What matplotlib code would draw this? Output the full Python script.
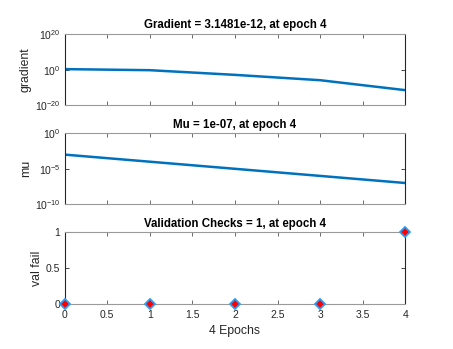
import matplotlib
matplotlib.use("Agg")
import matplotlib.pyplot as plt
import numpy as np

plt.rcParams['font.family'] = ['Liberation Sans', 'DejaVu Sans']
plt.rcParams['mathtext.fontset'] = 'custom'
plt.rcParams['mathtext.rm'] = 'Liberation Sans'
plt.rcParams['mathtext.it'] = 'Liberation Sans'

epochs = [0, 1, 2, 3, 4]
gradient = [2.0, 0.5, 1.2e-3, 1.2e-6, 3.1481e-12]
mu = [1e-3, 1e-4, 1e-5, 1e-6, 1e-7]
val_fail = [0, 0, 0, 0, 1]

titles = ["Gradient = 3.1481e-12, at epoch 4",
          "Mu = 1e-07, at epoch 4",
          "Validation Checks = 1, at epoch 4"]
ylabels = ["gradient", "mu", "val fail"]
xlabel = "4 Epochs"
xticks = [0, 0.5, 1, 1.5, 2, 2.5, 3, 3.5, 4]
xticklabels = ["0", "0.5", "1", "1.5", "2", "2.5", "3", "3.5", "4"]

W, H = 453, 349
fig = plt.figure(figsize=(W/100, H/100), dpi=100)
fig.patch.set_facecolor('white')

def rect(l, t, r, b):
    return [l/W, 1-b/H, (r-l)/W, (b-t)/H]

axes = [fig.add_axes(rect(64.5, 34, 405.3, 105.3)),
        fig.add_axes(rect(64.5, 133.3, 405.3, 204.3)),
        fig.add_axes(rect(64.5, 232.3, 405.3, 304))]

dark = '#262626'
blue = '#0072BD'

for ax in axes:
    ax.set_xlim(0, 4)
    ax.set_xticks(xticks)
    ax.tick_params(direction='in', top=True, right=True, length=3, width=0.6,
                   colors=dark, labelsize=7.5, pad=3)
    ax.tick_params(axis='x', colors='#555555', labelcolor=dark, pad=4)
    for s in ['left', 'right']:
        ax.spines[s].set_color(dark)
        ax.spines[s].set_linewidth(0.8)
    for s in ['top', 'bottom']:
        ax.spines[s].set_color('#9a9a9a')
        ax.spines[s].set_linewidth(0.8)
    ax.minorticks_off()

# Panel 1
ax = axes[0]
ax.semilogy(epochs, gradient, color=blue, lw=1.8)
ax.set_ylim(1e-20, 1e20)
ax.set_yticks([1e-20, 1e0, 1e20])
ax.set_yticklabels([r'$10^{-20}$', r'$10^{0}$', r'$10^{20}$'])
ax.minorticks_off()
ax.set_xticklabels([])

# Panel 2
ax = axes[1]
ax.semilogy(epochs, mu, color=blue, lw=1.8)
ax.set_ylim(1e-10, 1e0)
ax.set_yticks([1e-10, 1e-5, 1e0])
ax.set_yticklabels([r'$10^{-10}$', r'$10^{-5}$', r'$10^{0}$'])
ax.minorticks_off()
ax.set_xticklabels([])

# Panel 3
ax = axes[2]
ax.plot(epochs, val_fail, linestyle='none', marker='D', markersize=5,
        markerfacecolor='red', markeredgecolor='#2a9df4', markeredgewidth=1.3,
        clip_on=False, zorder=5)
ax.set_ylim(0, 1)
ax.set_yticks([0, 0.5, 1])
ax.set_yticklabels(["0", "0.5", "1"])
ax.set_xticklabels(xticklabels)
ax.set_xlabel(xlabel, fontsize=8.8, color=dark, labelpad=4)

for ax, t, yl in zip(axes, titles, ylabels):
    ax.set_title(t, fontsize=8.3, fontweight='bold', color='black', pad=4)
    ax.set_ylabel(yl, fontsize=8.8, color=dark, labelpad=2)

fig.savefig("out.png", dpi=100, facecolor='white')
